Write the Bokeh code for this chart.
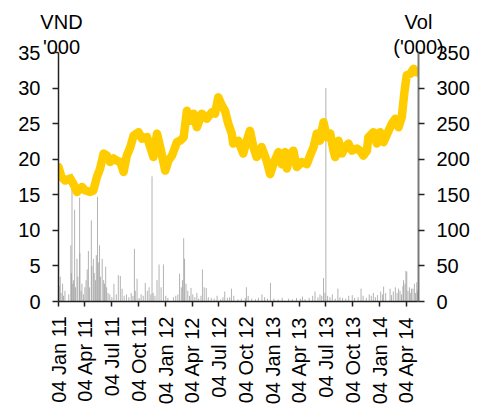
import math
import datetime as dt
from bokeh.plotting import figure
from bokeh.models import Range1d, LinearAxis, FixedTicker, DatetimeTickFormatter, ColumnDataSource
from bokeh.embed import file_html
from bokeh.resources import INLINE

# ---------------- data ----------------
price_dates = [
    "2011-01-04", "2011-01-14", "2011-01-27", "2011-02-13", "2011-02-24", "2011-03-08",
    "2011-03-25", "2011-04-05", "2011-04-22", "2011-05-03", "2011-05-15", "2011-05-26",
    "2011-06-07", "2011-06-18", "2011-06-29", "2011-07-11", "2011-07-22", "2011-08-03",
    "2011-08-14", "2011-08-25", "2011-09-06", "2011-09-17", "2011-10-04", "2011-10-16",
    "2011-11-02", "2011-11-13", "2011-11-24", "2011-12-06", "2011-12-17", "2012-01-03",
    "2012-01-14", "2012-01-26", "2012-02-06", "2012-02-12", "2012-02-23", "2012-03-06",
    "2012-03-17", "2012-03-29", "2012-04-09", "2012-04-20", "2012-05-07", "2012-05-24",
    "2012-06-10", "2012-06-21", "2012-07-02", "2012-07-14", "2012-07-25", "2012-08-05",
    "2012-08-17", "2012-08-22", "2012-09-08", "2012-09-25", "2012-10-07", "2012-10-18",
    "2012-10-30", "2012-11-10", "2012-11-27", "2012-12-14", "2012-12-26", "2013-01-06",
    "2013-01-23", "2013-02-04", "2013-02-15", "2013-02-21", "2013-03-04", "2013-03-15",
    "2013-03-27", "2013-04-13", "2013-04-30", "2013-05-11", "2013-05-23", "2013-06-03",
    "2013-06-14", "2013-06-26", "2013-07-07", "2013-07-19", "2013-07-30", "2013-08-05",
    "2013-08-16", "2013-08-28", "2013-09-08", "2013-09-19", "2013-10-01", "2013-10-18",
    "2013-10-29", "2013-11-09", "2013-11-21", "2013-11-26", "2013-12-13", "2013-12-25",
    "2014-01-05", "2014-01-17", "2014-02-03", "2014-02-14", "2014-02-26", "2014-03-09",
    "2014-03-20", "2014-03-26", "2014-03-31", "2014-04-06", "2014-04-18", "2014-04-29",
    "2014-05-10",
]
price_values = [
    18.9, 17.5, 17.0, 17.3, 16.5, 15.4,
    16.1, 15.6, 15.4, 15.6, 17.5, 18.7,
    20.8, 20.5, 19.6, 20.1, 19.8, 19.6,
    18.2, 20.5, 21.7, 23.3, 23.8, 22.9,
    23.1, 21.7, 20.3, 23.6, 21.7, 18.4,
    19.8, 20.5, 21.7, 22.4, 22.6, 23.1,
    26.8, 25.4, 26.4, 24.5, 26.4, 25.7,
    26.6, 26.4, 28.7, 27.6, 26.8, 25.0,
    23.6, 22.2, 22.6, 20.8, 22.6, 24.0,
    21.7, 20.3, 21.7, 19.8, 17.9, 19.3,
    21.0, 19.3, 21.0, 18.7, 20.5, 21.2,
    18.9, 19.6, 19.3, 20.5, 21.7, 23.6,
    22.6, 25.2, 23.1, 23.6, 21.2, 20.3,
    22.6, 20.8, 21.7, 22.2, 21.2, 21.5,
    21.2, 20.5, 21.2, 23.1, 23.8, 22.2,
    23.8, 22.4, 24.0, 25.0, 25.7, 24.5,
    25.9, 28.3, 30.1, 31.8, 32.0, 32.7,
    32.2,
]

vol_dates = [
    "2011-01-04", "2011-01-06", "2011-01-10", "2011-01-13", "2011-01-18", "2011-01-21",
    "2011-01-26", "2011-02-08", "2011-02-15", "2011-02-17", "2011-02-19", "2011-02-22",
    "2011-02-24", "2011-02-28", "2011-03-03", "2011-03-08", "2011-03-11", "2011-03-17",
    "2011-03-18", "2011-03-22", "2011-03-25", "2011-03-30", "2011-04-04", "2011-04-08",
    "2011-04-12", "2011-04-16", "2011-04-20", "2011-04-26", "2011-04-28", "2011-05-03",
    "2011-05-06", "2011-05-10", "2011-05-13", "2011-05-17", "2011-05-20", "2011-05-24",
    "2011-05-27", "2011-06-02", "2011-06-07", "2011-06-10", "2011-06-14", "2011-06-17",
    "2011-06-22", "2011-06-28", "2011-07-05", "2011-07-12", "2011-07-20", "2011-07-27",
    "2011-08-03", "2011-08-09", "2011-08-16", "2011-08-24", "2011-09-01", "2011-09-09",
    "2011-09-15", "2011-09-20", "2011-09-23", "2011-09-29", "2011-10-06", "2011-10-13",
    "2011-10-20", "2011-10-27", "2011-11-03", "2011-11-09", "2011-11-15", "2011-11-19",
    "2011-11-23", "2011-11-29", "2011-12-06", "2011-12-13", "2011-12-20", "2011-12-28",
    "2012-01-05", "2012-01-12", "2012-01-31", "2012-02-08", "2012-02-15", "2012-02-21",
    "2012-02-27", "2012-03-02", "2012-03-06", "2012-03-09", "2012-03-14", "2012-03-20",
    "2012-03-26", "2012-03-31", "2012-04-06", "2012-04-13", "2012-04-20", "2012-04-26",
    "2012-05-04", "2012-05-09", "2012-05-15", "2012-05-22", "2012-05-29", "2012-06-08",
    "2012-06-18", "2012-06-28", "2012-07-10", "2012-07-18", "2012-07-24", "2012-08-02",
    "2012-08-10", "2012-08-16", "2012-08-24", "2012-09-07", "2012-09-19", "2012-10-02",
    "2012-10-06", "2012-10-12", "2012-10-24", "2012-11-06", "2012-11-16", "2012-11-28",
    "2012-12-07", "2012-12-17", "2012-12-27", "2013-01-08", "2013-01-22", "2013-02-05",
    "2013-02-27", "2013-03-12", "2013-03-26", "2013-04-08", "2013-04-15", "2013-04-24",
    "2013-05-08", "2013-05-20", "2013-05-28", "2013-06-07", "2013-06-14", "2013-06-20",
    "2013-06-26", "2013-07-01", "2013-07-04", "2013-07-10", "2013-07-18", "2013-07-26",
    "2013-08-05", "2013-08-14", "2013-08-21", "2013-08-30", "2013-09-10", "2013-09-20",
    "2013-10-02", "2013-10-10", "2013-10-22", "2013-11-01", "2013-11-08", "2013-11-19",
    "2013-11-29", "2013-12-06", "2013-12-13", "2013-12-20", "2013-12-27", "2014-01-07",
    "2014-01-13", "2014-01-17", "2014-01-24", "2014-02-08", "2014-02-13", "2014-02-19",
    "2014-02-26", "2014-03-04", "2014-03-09", "2014-03-14", "2014-03-19", "2014-03-24",
    "2014-03-26", "2014-03-31", "2014-04-03", "2014-04-06", "2014-04-10", "2014-04-15",
    "2014-04-18", "2014-04-22", "2014-04-27", "2014-05-02", "2014-05-06", "2014-05-10",
    "2014-05-13",
]
vol_values = [
    55, 22, 35, 12, 25, 8,
    15, 10, 79, 40, 180, 25,
    30, 129, 20, 60, 35, 146,
    68, 15, 25, 10, 20, 30,
    45, 71, 20, 114, 50, 60,
    40, 30, 65, 147, 55, 79,
    35, 60, 30, 25, 49, 20,
    12, 10, 6, 25, 10, 37,
    36, 18, 8, 10, 6, 12,
    8, 74, 15, 32, 5, 10,
    8, 26, 15, 20, 10, 176,
    12, 8, 30, 52, 20, 52,
    8, 5, 6, 8, 10, 39,
    20, 30, 89, 60, 25, 15,
    8, 19, 10, 6, 12, 4,
    8, 45, 20, 19, 6, 5,
    4, 8, 3, 6, 14, 5,
    6, 18, 8, 3, 4, 5,
    20, 8, 4, 3, 5, 10,
    6, 4, 26, 4, 3, 5,
    4, 3, 5, 4, 7, 3,
    5, 8, 14, 6, 10, 8,
    33, 12, 300, 8, 6, 10,
    4, 18, 6, 5, 4, 8,
    9, 5, 6, 18, 8, 5,
    10, 8, 12, 6, 9, 14,
    10, 21, 12, 18, 9, 14,
    20, 12, 18, 15, 10, 22,
    30, 25, 43, 42, 15, 20,
    12, 18, 18, 25, 12, 27,
    15,
]

tick_dates = [
    "2011-01-04", "2011-04-04", "2011-07-04", "2011-10-04",
    "2012-01-04", "2012-04-04", "2012-07-04", "2012-10-04",
    "2013-01-04", "2013-04-04", "2013-07-04", "2013-10-04",
    "2014-01-04", "2014-04-04",
]

left_title = ["VND", "'000"]
right_title = ["Vol", "('000)"]

# ---------------- helpers ----------------
def d(s):
    return dt.datetime.strptime(s, "%Y-%m-%d")

EPOCH = dt.datetime(1970, 1, 1)

def ms(s):
    return (d(s) - EPOCH).total_seconds() * 1000.0

FONT = "Liberation Sans"
FS = "20px"

price_src = ColumnDataSource(dict(x=[d(s) for s in price_dates], y=price_values))
vol_src = ColumnDataSource(dict(x=[d(s) for s in vol_dates], y0=[0] * len(vol_values), y=vol_values))

p = figure(
    width=486, height=407,
    x_axis_type="datetime",
    x_range=Range1d(d("2011-01-04"), d("2014-05-16")),
    y_range=Range1d(0, 35),
    output_backend="svg", toolbar_location=None,
    min_border_left=58, min_border_right=68, min_border_top=52, min_border_bottom=106,
)
p.title_location = None
p.extra_y_ranges = {"vol": Range1d(0, 350)}
p.extra_x_ranges = {"ttl": Range1d(0, 1)}

p.outline_line_color = None
p.xgrid.grid_line_color = None
p.ygrid.grid_line_color = None
p.background_fill_color = "white"
p.border_fill_color = "white"

# volume bars (right axis)
p.segment(x0="x", y0="y0", x1="x", y1="y", source=vol_src, y_range_name="vol",
          line_color="#9a9a9a", line_width=1, line_alpha=0.75)

# price line (left axis)
p.line(x="x", y="y", source=price_src, line_color="#FFCC00", line_width=8.5,
       line_join="round", line_cap="round")

def style_axis(ax, tick_out, standoff, fs=FS):
    ax.major_tick_line_color = "#222222"
    ax.major_tick_line_width = 1.5
    ax.major_tick_out = tick_out
    ax.major_tick_in = 0
    ax.minor_tick_line_color = None
    ax.major_label_standoff = standoff
    ax.major_label_text_font = FONT
    ax.major_label_text_font_size = fs
    ax.major_label_text_color = "black"

# left axis
ya = p.yaxis[0]
ya.ticker = FixedTicker(ticks=[0, 5, 10, 15, 20, 25, 30, 35], minor_ticks=[])
ya.axis_line_color = "#222222"
ya.axis_line_width = 1.5
style_axis(ya, 6, 12)

# right axis
ra = LinearAxis(y_range_name="vol",
                ticker=FixedTicker(ticks=[0, 50, 100, 150, 200, 250, 300, 350], minor_ticks=[]))
ra.axis_line_color = "#7a7a7a"
ra.axis_line_width = 2
style_axis(ra, 6, 12)
p.add_layout(ra, "right")

# bottom axis
xa = p.xaxis[0]
xa.ticker = FixedTicker(ticks=[ms(s) for s in tick_dates], minor_ticks=[])
xa.formatter = DatetimeTickFormatter(
    milliseconds="%d %b %y", seconds="%d %b %y", minsec="%d %b %y", minutes="%d %b %y",
    hourmin="%d %b %y", hours="%d %b %y", days="%d %b %y", months="%d %b %y", years="%d %b %y",
    context=None,
)
xa.major_label_orientation = math.pi / 2
xa.axis_line_color = "#222222"
xa.axis_line_width = 1.5
style_axis(xa, 5, 10)

# axis titles drawn as two label-only axes above the frame (inner row first)
for row, standoff in [(1, -5), (0, 0)]:
    ta = LinearAxis(x_range_name="ttl", ticker=FixedTicker(ticks=[0.0083, 1.0], minor_ticks=[]),
                    major_label_overrides={0.0083: left_title[row], 1.0: right_title[row]})
    ta.axis_line_color = None
    ta.major_tick_line_color = None
    ta.minor_tick_line_color = None
    ta.major_tick_out = 0
    ta.major_tick_in = 0
    ta.major_label_standoff = standoff
    ta.major_label_text_font = FONT
    ta.major_label_text_font_size = "20px"
    ta.major_label_text_color = "black"
    p.add_layout(ta, "above")

open("out.html", "w").write(file_html(p, INLINE))
